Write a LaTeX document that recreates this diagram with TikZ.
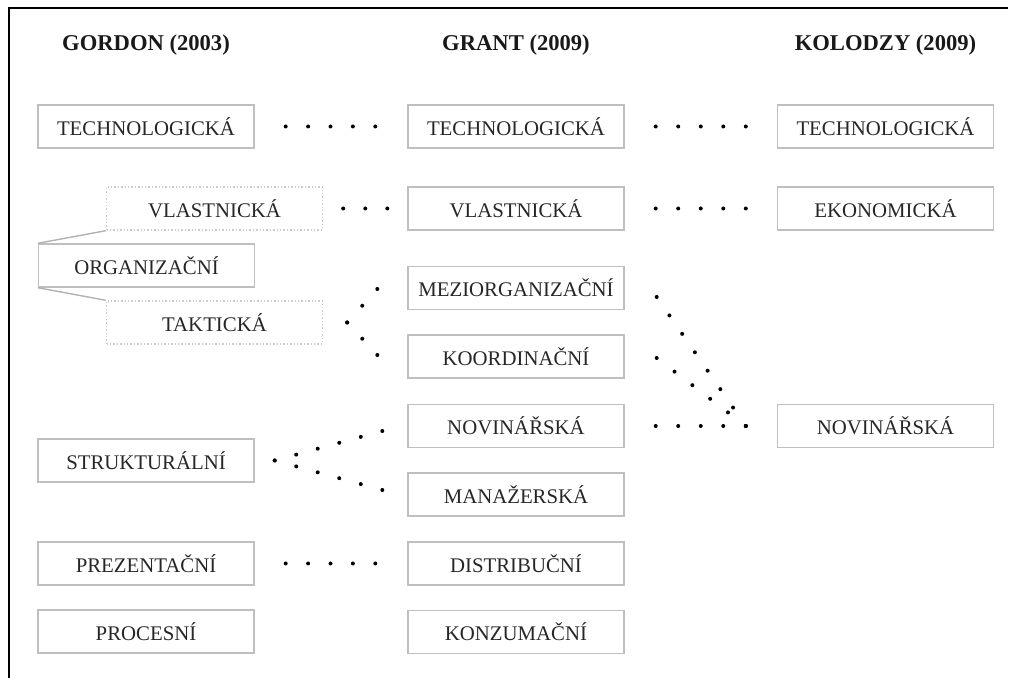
\documentclass[tikz,border=0pt]{standalone}
\usepackage{fontspec}
\setmainfont{Liberation Serif}
\usetikzlibrary{calc}

\tikzset{
  box/.style={draw=black!25, line width=0.7pt, minimum width=108pt, minimum height=21.5pt,
    inner sep=0pt, text=black!85, font=\fontsize{10.4}{12}\selectfont},
  faintbox/.style={box, draw=black!20, densely dotted},
  head/.style={font=\fontsize{11.3}{13}\selectfont\bfseries, text=black!90},
}
% row of dots from #1 to #2 with #3 gaps
\newcommand{\dotlink}[3]{%
  \path #1 coordinate (dl-a) #2 coordinate (dl-b);
  \foreach \k in {0,...,#3}{\fill ($(dl-a)!{\k/#3}!(dl-b)$) circle (1pt);}}

\begin{document}
\begin{tikzpicture}[x=0.5pt, y=-0.5pt]
   \useasboundingbox (0,0) rectangle (1018,678);
   \draw[line width=1pt] (9,678) -- (9,8) -- (1008,8);

   \node[head] (gordon) at (146,45) {GORDON (2003)};
   \node[head] (grant) at (516,45) {GRANT (2009)};
   \node[head] (kolodzy) at (885.5,45) {KOLODZY (2009)};

   % Gordon
   \node[box] (tech1) at (146,126.5) {TECHNOLOGICKÁ};
   \node[faintbox] (vlast1) at (214.5,208.5) {VLASTNICKÁ};
   \node[box] (org) at (146.5,265.5) {ORGANIZAČNÍ};
   \node[faintbox] (takt) at (214.5,322.5) {TAKTICKÁ};
   \node[box] (strukt) at (146,460.5) {STRUKTURÁLNÍ};
   \node[box] (prez) at (146,563.5) {PREZENTAČNÍ};
   \node[box] (proc) at (146,631.5) {PROCESNÍ};

   \draw[black!30, line width=0.7pt] (org.north west) -- (vlast1.south west);
   \draw[black!30, line width=0.7pt] (org.south west) -- (takt.north west);

   % Grant
   \node[box] (tech2) at (516,126.5) {TECHNOLOGICKÁ};
   \node[box] (vlast2) at (516,208.5) {VLASTNICKÁ};
   \node[box] (mezi) at (516,288) {MEZIORGANIZAČNÍ};
   \node[box] (koord) at (516,356.5) {KOORDINAČNÍ};
   \node[box] (nov2) at (516,426) {NOVINÁŘSKÁ};
   \node[box] (man) at (516,494.5) {MANAŽERSKÁ};
   \node[box] (dist) at (516,563.5) {DISTRIBUČNÍ};
   \node[box] (konz) at (516,632) {KONZUMAČNÍ};

   % Kolodzy
   \node[box] (tech3) at (885.5,126.5) {TECHNOLOGICKÁ};
   \node[box] (ekon) at (885.5,208.5) {EKONOMICKÁ};
   \node[box] (nov3) at (885.5,426) {NOVINÁŘSKÁ};
   \coordinate (meet) at ($(nov3.west)+(-31,0)$);

   % dotted links
   \dotlink{($(tech1.east)+(31,0)$)}{($(tech2.west)+(-32,0)$)}{4}
   \dotlink{($(tech2.east)+(31,0)$)}{($(tech3.west)+(-31,0)$)}{4}
   \dotlink{($(vlast1.east)+(20,0)$)}{($(vlast2.west)+(-20,0)$)}{2}
   \dotlink{($(vlast2.east)+(31,0)$)}{($(ekon.west)+(-31,0)$)}{4}
   \dotlink{($(takt.east)+(24,0)$)}{($(mezi.west)+(-30,1)$)}{2}
   \dotlink{($(takt.east)+(24,0)$)}{($(koord.west)+(-30,-1.5)$)}{2}
   \dotlink{($(strukt.east)+(20,0)$)}{($(nov2.west)+(-25,5)$)}{5}
   \dotlink{($(strukt.east)+(20,0)$)}{($(man.west)+(-25,-4.5)$)}{5}
   \dotlink{($(prez.east)+(31,0)$)}{($(dist.west)+(-32,0)$)}{4}
   \dotlink{($(mezi.east)+(32,9)$)}{(meet)}{7}
   \dotlink{($(koord.east)+(32,1.5)$)}{(meet)}{5}
   \dotlink{($(nov2.east)+(31,0)$)}{(meet)}{4}
\end{tikzpicture}
\end{document}
